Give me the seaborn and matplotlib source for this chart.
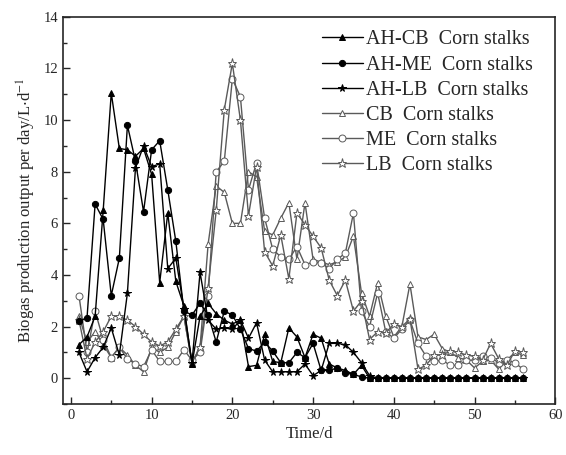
import numpy as np
import pandas as pd
import matplotlib
matplotlib.use('Agg')
import matplotlib.pyplot as plt
import seaborn as sns
from matplotlib.ticker import MultipleLocator

sns.set_style('ticks')
plt.rcParams['font.family'] = ['Liberation Serif', 'DejaVu Serif']
plt.rcParams['mathtext.fontset'] = 'stix'

# Data, days 1..56
days = np.arange(1, 57)

ah_cb = [1.3, 1.6, 2.4, 6.5, 11.05, 8.9, 8.85, 8.6, 8.9, 7.9,
         3.7, 6.4, 3.75, 2.8, 0.55, 2.4, 2.9, 2.5, 2.25, 2.1,
         2.25, 0.45, 0.5, 1.7, 0.65, 0.6, 1.95, 1.6, 0.8, 1.7,
         1.55, 0.55, 0.4, 0.3, 0.15, 0.5, 0.0, 0.0, 0.0, 0.0,
         0.0, 0.0, 0.0, 0.0, 0.0, 0.0, 0.0, 0.0, 0.0, 0.0,
         0.0, 0.0, 0.0, 0.0, 0.0, 0.0]
ah_me = [2.2, 2.35, 6.75, 6.15, 3.2, 4.65, 9.8, 8.4, 6.45, 8.85,
         9.2, 7.3, 5.3, 2.6, 2.45, 2.9, 2.45, 1.4, 2.6, 2.45,
         1.9, 1.15, 1.05, 1.4, 1.05, 0.6, 0.6, 1.0, 0.8, 1.35,
         0.3, 0.3, 0.4, 0.2, 0.15, 0.05, 0.0, 0.0, 0.0, 0.0,
         0.0, 0.0, 0.0, 0.0, 0.0, 0.0, 0.0, 0.0, 0.0, 0.0,
         0.0, 0.0, 0.0, 0.0, 0.0, 0.0]
ah_lb = [1.0, 0.25, 0.8, 1.2, 1.95, 0.9, 3.3, 8.15, 9.0, 8.2,
         8.3, 4.25, 4.65, 2.7, 0.6, 4.1, 2.25, 1.9, 1.95, 1.9,
         2.25, 1.55, 2.15, 0.7, 0.25, 0.25, 0.25, 0.25, 0.55, 0.1,
         0.3, 1.35, 1.35, 1.3, 1.0, 0.6, 0.1, 0.0, 0.0, 0.0,
         0.0, 0.0, 0.0, 0.0, 0.0, 0.0, 0.0, 0.0, 0.0, 0.0,
         0.0, 0.0, 0.0, 0.0, 0.0, 0.0]
cb = [2.4, 1.4, 1.8, 1.3, 0.8, 1.2, 0.9, 0.5, 0.25, 1.2,
      1.0, 1.2, 1.8, 2.4, 0.6, 1.2, 5.2, 7.45, 7.2, 6.0,
      6.0, 8.0, 7.8, 5.7, 5.55, 6.2, 6.8, 4.6, 6.8, 4.6,
      4.5, 4.4, 4.5, 4.7, 5.5, 3.3, 2.4, 3.7, 2.4, 1.6,
      2.0, 3.65, 1.6, 1.5, 1.7, 1.15, 1.0, 0.8, 0.7, 0.4,
      0.65, 0.7, 0.35, 0.7, 1.0, 0.9]
me = [3.2, 1.0, 2.6, 1.5, 0.8, 1.2, 0.75, 0.55, 0.45, 1.1,
      0.65, 0.65, 0.65, 1.1, 0.7, 1.0, 3.2, 8.0, 8.4, 11.6,
      10.9, 7.3, 8.35, 6.2, 5.0, 4.7, 4.6, 5.1, 4.4, 4.5,
      4.45, 4.25, 4.6, 4.85, 6.4, 2.6, 2.0, 3.3, 1.8, 1.55,
      1.9, 2.25, 1.35, 0.85, 0.65, 0.7, 0.5, 0.5, 0.7, 0.7,
      0.85, 0.8, 0.6, 0.7, 0.6, 0.35]
lb = [2.25, 0.75, 1.4, 1.8, 2.4, 2.4, 2.25, 2.0, 1.7, 1.4,
      1.25, 1.4, 1.9, 2.4, 0.6, 1.2, 3.5, 6.5, 10.4, 12.2,
      10.0, 6.3, 8.2, 4.9, 4.35, 5.55, 3.85, 6.4, 5.95, 5.5,
      5.05, 3.8, 3.2, 3.8, 2.6, 3.0, 1.5, 1.8, 1.75, 2.1,
      2.0, 2.3, 0.35, 0.5, 0.9, 0.9, 1.05, 1.0, 0.9, 0.85,
      0.7, 1.35, 0.75, 0.5, 1.05, 1.0]

labels = ['AH-CB  Corn stalks', 'AH-ME  Corn stalks', 'AH-LB  Corn stalks',
          'CB  Corn stalks', 'ME  Corn stalks', 'LB  Corn stalks']

fig, ax = plt.subplots(figsize=(5.66, 4.55), dpi=100)
fig.subplots_adjust(left=0.111, right=0.981, bottom=0.112, top=0.963)

black = '#000000'
grey = '#5a5a5a'
series = [
    (ah_cb, '^', black, black, 4.5, 4),
    (ah_me, 'o', black, black, 4.5, 4),
    (ah_lb, '*', black, black, 5.5, 4),
    (cb, '^', grey, 'white', 5, 3),
    (me, 'o', grey, 'white', 5, 3),
    (lb, '*', grey, 'white', 6.5, 3),
]
for (vals, mk, col, face, ms, z), lab in zip(series, labels):
    sns.lineplot(x=days, y=vals, ax=ax, color=col, marker=mk,
                 markersize=ms, markerfacecolor=face, markeredgecolor=col,
                 markeredgewidth=0.7, linewidth=1.0, label=lab, zorder=z)

# axes
ax.set_xlim(-1, 60)
ax.set_ylim(-1, 14)
ax.xaxis.set_major_locator(MultipleLocator(10))
ax.xaxis.set_minor_locator(MultipleLocator(5))
ax.yaxis.set_major_locator(MultipleLocator(2))
ax.yaxis.set_minor_locator(MultipleLocator(1))
ax.tick_params(which='both', direction='in', top=False, right=False,
               labelsize=10.5, width=1.0)
ax.tick_params(which='major', length=5)
ax.tick_params(which='minor', length=3)
for s in ax.spines.values():
    s.set_linewidth(1.2)

ax.set_xlabel('Time/d', fontsize=12, labelpad=3)
ax.set_ylabel('Biogas production output per day/L$\\cdot$d$^{-1}$', fontsize=12, labelpad=4)

ax.legend(loc='upper left', bbox_to_anchor=(0.49, 1.012), frameon=False,
          handlelength=2.0, handletextpad=0.15, labelspacing=0.3, fontsize=14.5)

fig.savefig('out.png', dpi=100)
